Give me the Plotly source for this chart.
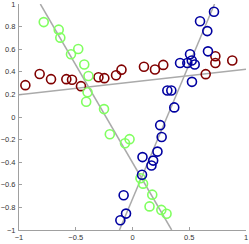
import plotly.graph_objects as go

green_x = [-0.782, -0.650, -0.636, -0.542, -0.478, -0.425, -0.388, -0.396, -0.408, -0.251,
           -0.200, -0.066, -0.026, 0.070, 0.093, 0.174, 0.150, 0.254, 0.300]
green_y = [0.840, 0.773, 0.702, 0.555, 0.602, 0.465, 0.363, 0.219, 0.135, 0.070,
           -0.152, -0.232, -0.196, -0.542, -0.590, -0.687, -0.791, -0.822, -0.856]

blue_x = [0.718, 0.595, 0.659, 0.665, 0.507, 0.419, 0.483, 0.522, 0.548, 0.524,
          0.307, 0.342, 0.368, 0.244, 0.257, 0.220, 0.088, 0.182, 0.167, 0.084,
          -0.078, -0.057, -0.107]
blue_y = [0.931, 0.848, 0.760, 0.581, 0.555, 0.478, 0.478, 0.500, 0.464, 0.311,
          0.235, 0.235, 0.085, -0.072, -0.177, -0.306, -0.355, -0.386, -0.429, -0.511,
          -0.693, -0.855, -0.914]

red_x = [-0.944, -0.818, -0.718, -0.583, -0.533, -0.454, -0.300, -0.248, -0.145, -0.097,
         0.101, 0.198, 0.271, 0.645, 0.730, 0.730, 0.879]
red_y = [0.282, 0.381, 0.335, 0.335, 0.329, 0.273, 0.352, 0.344, 0.370, 0.419,
         0.445, 0.421, 0.461, 0.379, 0.537, 0.478, 0.500]

# fitted lines (endpoints)
line1_x = [-0.812, 0.345]
line1_y = [1.0, -1.0]
line2_x = [-0.115, 0.723]
line2_y = [-1.0, 1.0]
line3_x = [-1.0, 1.0]
line3_y = [0.198, 0.422]

x_ticks = [-1, -0.5, 0, 0.5, 1]
y_ticks = [-1, -0.8, -0.6, -0.4, -0.2, 0, 0.2, 0.4, 0.6, 0.8, 1]

fig = go.Figure()
for lx, ly in [(line1_x, line1_y), (line2_x, line2_y), (line3_x, line3_y)]:
    fig.add_trace(go.Scatter(x=lx, y=ly, mode="lines",
                             line=dict(color="#aaaaaa", width=1.5),
                             hoverinfo="skip", showlegend=False))

for xs, ys, col in [(red_x, red_y, "#800000"), (green_x, green_y, "#80ff60"),
                    (blue_x, blue_y, "#0000a0")]:
    fig.add_trace(go.Scatter(x=xs, y=ys, mode="markers", showlegend=False,
                             marker=dict(symbol="circle-open", size=9, color=col,
                                         line=dict(width=1.6, color=col))))

axis_common = dict(showgrid=False, zeroline=False, showline=True, linecolor="#a0a0a0",
                   linewidth=1, ticks="inside", ticklen=3, tickcolor="#a0a0a0",
                   automargin=False, ticklabeloverflow="allow",
                   tickfont=dict(family="Liberation Sans, Arial", size=7.5, color="#333333"))
fig.update_xaxes(range=[-1, 1], tickvals=x_ticks, ticklabelstandoff=0, **axis_common)
fig.update_yaxes(range=[-1, 1], tickvals=y_ticks, ticklabelstandoff=1, **axis_common)

fig.update_layout(width=249, height=244, margin=dict(l=19, r=3, t=3.5, b=13.5, autoexpand=False),
                  paper_bgcolor="white", plot_bgcolor="white")
fig.write_html("out.html", config={"displayModeBar": False},
               post_script="document.body.style.margin='0';")
